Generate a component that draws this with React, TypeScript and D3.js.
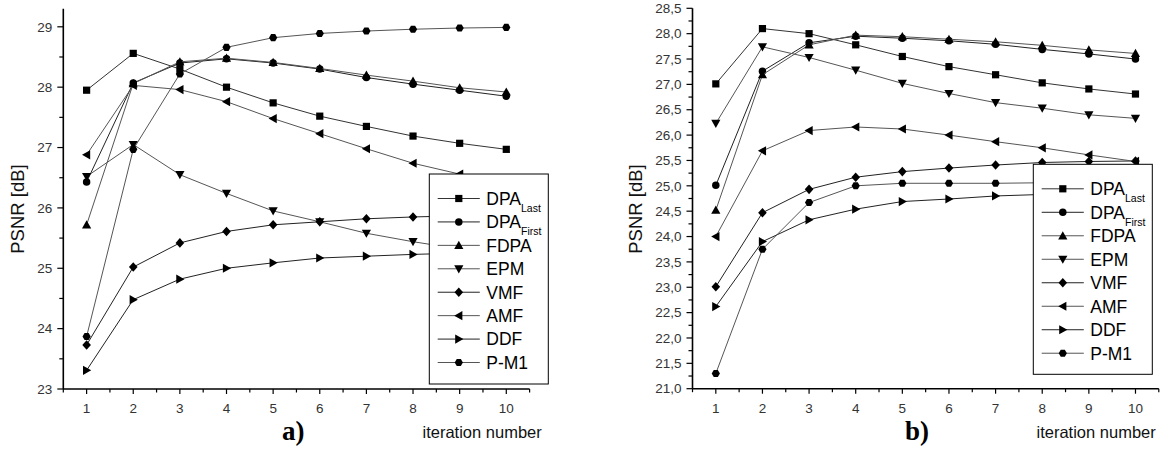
import React from "react";
import * as d3 from "d3";

const iterations = [1, 2, 3, 4, 5, 6, 7, 8, 9, 10];
const seriesNames = ["DPA_Last", "DPA_First", "FDPA", "EPM", "VMF", "AMF", "DDF", "P-M1"];
const seriesMarkers = ["square", "circle", "triUp", "triDown", "diamond", "triLeft", "triRight", "hexagon"];

// panel a)
const aDPALast = [27.95, 28.56, 28.3, 28.0, 27.74, 27.52, 27.35, 27.19, 27.07, 26.97];
const aDPAFirst = [26.43, 28.07, 28.4, 28.47, 28.4, 28.3, 28.16, 28.05, 27.95, 27.85];
const aFDPA = [25.72, 28.06, 28.42, 28.48, 28.41, 28.31, 28.2, 28.1, 27.99, 27.92];
const aEPM = [26.52, 27.05, 26.55, 26.24, 25.95, 25.77, 25.58, 25.44, 25.32, 25.22];
const aVMF = [23.73, 25.02, 25.42, 25.61, 25.72, 25.77, 25.82, 25.85, 25.87, 25.88];
const aAMF = [26.88, 28.03, 27.96, 27.76, 27.48, 27.23, 26.98, 26.74, 26.56, 26.38];
const aDDF = [23.31, 24.48, 24.82, 25.0, 25.09, 25.17, 25.2, 25.23, 25.25, 25.27];
const aPM1 = [23.87, 26.97, 28.22, 28.66, 28.82, 28.89, 28.93, 28.96, 28.98, 28.99];

// panel b)
const bDPALast = [27.01, 28.1, 28.0, 27.78, 27.55, 27.35, 27.19, 27.03, 26.91, 26.81];
const bDPAFirst = [25.01, 27.26, 27.82, 27.95, 27.91, 27.86, 27.79, 27.69, 27.6, 27.5];
const bFDPA = [24.52, 27.19, 27.78, 27.97, 27.94, 27.89, 27.84, 27.77, 27.68, 27.61];
const bEPM = [26.23, 27.74, 27.53, 27.28, 27.02, 26.82, 26.64, 26.53, 26.4, 26.33];
const bVMF = [23.01, 24.47, 24.93, 25.17, 25.28, 25.35, 25.41, 25.46, 25.48, 25.49];
const bAMF = [24.0, 25.69, 26.09, 26.16, 26.12, 26.0, 25.87, 25.75, 25.61, 25.48];
const bDDF = [22.62, 23.9, 24.33, 24.54, 24.69, 24.74, 24.8, 24.83, 24.85, 24.87];
const bPM1 = [21.3, 23.75, 24.67, 25.0, 25.05, 25.05, 25.05, 25.06, 25.06, 25.06];

const aYTicks = [23, 24, 25, 26, 27, 28, 29];
const bYTicks = [21, 21.5, 22, 22.5, 23, 23.5, 24, 24.5, 25, 25.5, 26, 26.5, 27, 27.5, 28, 28.5];

const FONT = "'Liberation Sans', Arial, sans-serif";

function markerPath(kind: string): string {
  const s = 3.6;
  switch (kind) {
    case "square":
      return `M${-s},${-s}H${s}V${s}H${-s}Z`;
    case "circle":
      return d3.symbol(d3.symbolCircle, 44)() as string;
    case "hexagon": {
      const r = 4.1;
      const pts = d3.range(6).map((i) => {
        const a = (Math.PI / 3) * i;
        return [r * Math.cos(a), r * Math.sin(a)];
      });
      return "M" + pts.map((p) => p.join(",")).join("L") + "Z";
    }
    case "diamond":
      return `M0,-4.8L4.3,0L0,4.8L-4.3,0Z`;
    case "triUp":
      return `M0,-4.6L4.6,3.6L-4.6,3.6Z`;
    case "triDown":
      return `M0,4.6L4.6,-3.6L-4.6,-3.6Z`;
    case "triLeft":
      return `M-4.6,0L3.6,-4.6L3.6,4.6Z`;
    case "triRight":
      return `M4.6,0L-3.6,-4.6L-3.6,4.6Z`;
  }
  return "";
}

const lineColors = ["#333", "#222", "#555", "#555", "#222", "#555", "#222", "#555"];

type PanelProps = {
  data: number[][];
  xRange: [number, number];
  yDomain: [number, number];
  yRange: [number, number];
  yMajor: number[];
  yMinor: number[];
  fmt: (v: number) => string;
  legendX: number;
  legendY: number;
  rowStep: number;
  ylabelX: number;
  xlabelX: number;
  tagText: string;
  tagX: number;
};

function Panel(p: PanelProps) {
  const x = d3.scaleLinear().domain([0.5, 10.5]).range(p.xRange);
  const y = d3.scaleLinear().domain(p.yDomain).range(p.yRange);
  const line = d3
    .line<number>()
    .x((_, i) => x(iterations[i]))
    .y((d) => y(d));
  const x0 = p.xRange[0];
  const yBase = p.yRange[0];
  const xMinor = d3.range(0.5, 10.51, 1);
  return (
    <g>
      {/* series */}
      {p.data.map((vals, si) => (
        <g key={si}>
          <path d={line(vals) as string} fill="none" stroke={lineColors[si]} strokeWidth={1} />
          {vals.map((v, i) => (
            <path
              key={i}
              d={markerPath(seriesMarkers[si])}
              transform={`translate(${x(iterations[i])},${y(v)})`}
              fill="#000"
            />
          ))}
        </g>
      ))}
      {/* axes */}
      <line x1={x0} x2={x0} y1={yBase} y2={p.yRange[1]} stroke="#000" strokeWidth={1.6} />
      <line x1={x0} x2={p.xRange[1]} y1={yBase} y2={yBase} stroke="#000" strokeWidth={1.6} />
      {p.yMajor.map((t) => (
        <g key={"ym" + t}>
          <line x1={x0 - 6} x2={x0} y1={y(t)} y2={y(t)} stroke="#000" strokeWidth={1.2} />
          <text
            x={x0 - 11}
            y={y(t)}
            dy="0.35em"
            textAnchor="end"
            fontFamily={FONT}
            fontSize={13.5}
            fill="#333"
          >
            {p.fmt(t)}
          </text>
        </g>
      ))}
      {p.yMinor.map((t) => (
        <line key={"yn" + t} x1={x0 - 4} x2={x0} y1={y(t)} y2={y(t)} stroke="#000" strokeWidth={1.2} />
      ))}
      {iterations.map((t) => (
        <g key={"xm" + t}>
          <line x1={x(t)} x2={x(t)} y1={yBase} y2={yBase + 5} stroke="#000" strokeWidth={1.2} />
          <text
            x={x(t)}
            y={yBase + 24}
            textAnchor="middle"
            fontFamily={FONT}
            fontSize={13.5}
            fill="#333"
          >
            {t}
          </text>
        </g>
      ))}
      {xMinor.map((t) => (
        <line key={"xn" + t} x1={x(t)} x2={x(t)} y1={yBase} y2={yBase + 3.5} stroke="#000" strokeWidth={1.2} />
      ))}
      {/* axis titles */}
      <text
        transform={`translate(${p.ylabelX},209) rotate(-90)`}
        textAnchor="middle"
        fontFamily={FONT}
        fontSize={18.5}
        fill="#111"
      >
        PSNR [dB]
      </text>
      <text x={p.xlabelX} y={438} fontFamily={FONT} fontSize={16.5} fill="#111">
        iteration number
      </text>
      <text
        x={p.tagX}
        y={440}
        fontFamily="'Liberation Serif', 'Times New Roman', serif"
        fontWeight="bold"
        fontSize={27}
        fill="#000"
      >
        {p.tagText}
      </text>
      {/* legend */}
      <rect x={p.legendX} y={p.legendY} width={119} height={210} fill="#fff" stroke="#000" strokeWidth={1} />
      {seriesNames.map((name, i) => {
        const ry = p.legendY + 24.5 + i * p.rowStep;
        const parts = name.split("_");
        return (
          <g key={name}>
            <line
              x1={p.legendX + 8.4}
              x2={p.legendX + 50.5}
              y1={ry}
              y2={ry}
              stroke={lineColors[i]}
              strokeWidth={1}
            />
            <path d={markerPath(seriesMarkers[i])} transform={`translate(${p.legendX + 29.5},${ry})`} fill="#000" />
            <text x={p.legendX + 57} y={ry + 6.3} fontFamily={FONT} fontSize={17.5} fill="#000">
              {parts[0]}
              {parts[1] ? (
                <tspan fontSize={10.5} dy={7}>
                  {parts[1]}
                </tspan>
              ) : null}
            </text>
          </g>
        );
      })}
    </g>
  );
}

export default function App() {
  const aData = [aDPALast, aDPAFirst, aFDPA, aEPM, aVMF, aAMF, aDDF, aPM1];
  const bData = [bDPALast, bDPAFirst, bFDPA, bEPM, bVMF, bAMF, bDDF, bPM1];
  const aMinor = d3.range(23.5, 29.0, 1);
  const bMinor = d3.range(21.25, 28.5, 0.5);
  const fmtA = (v: number) => String(v);
  const fmtB = (v: number) => v.toFixed(1).replace(".", ",");
  return (
    <svg
      width={1162}
      height={455}
      style={{ position: "absolute", left: 0, top: 0, background: "#fff" }}
    >
      <rect width={1162} height={455} fill="#fff" />
      <Panel
        data={aData}
        xRange={[63.3, 529.6]}
        yDomain={[23, 29.3]}
        yRange={[389, 8.7]}
        yMajor={aYTicks}
        yMinor={aMinor}
        fmt={fmtA}
        legendX={429.3}
        legendY={174}
        rowStep={23.43}
        ylabelX={23.5}
        xlabelX={422.5}
        tagText="a)"
        tagX={282}
      />
      <Panel
        data={bData}
        xRange={[692.5, 1158.8]}
        yDomain={[21, 28.5]}
        yRange={[388.7, 8.3]}
        yMajor={bYTicks}
        yMinor={bMinor}
        fmt={fmtB}
        legendX={1033.3}
        legendY={164.3}
        rowStep={23.49}
        ylabelX={642}
        xlabelX={1036.5}
        tagText="b)"
        tagX={905}
      />
    </svg>
  );
}
